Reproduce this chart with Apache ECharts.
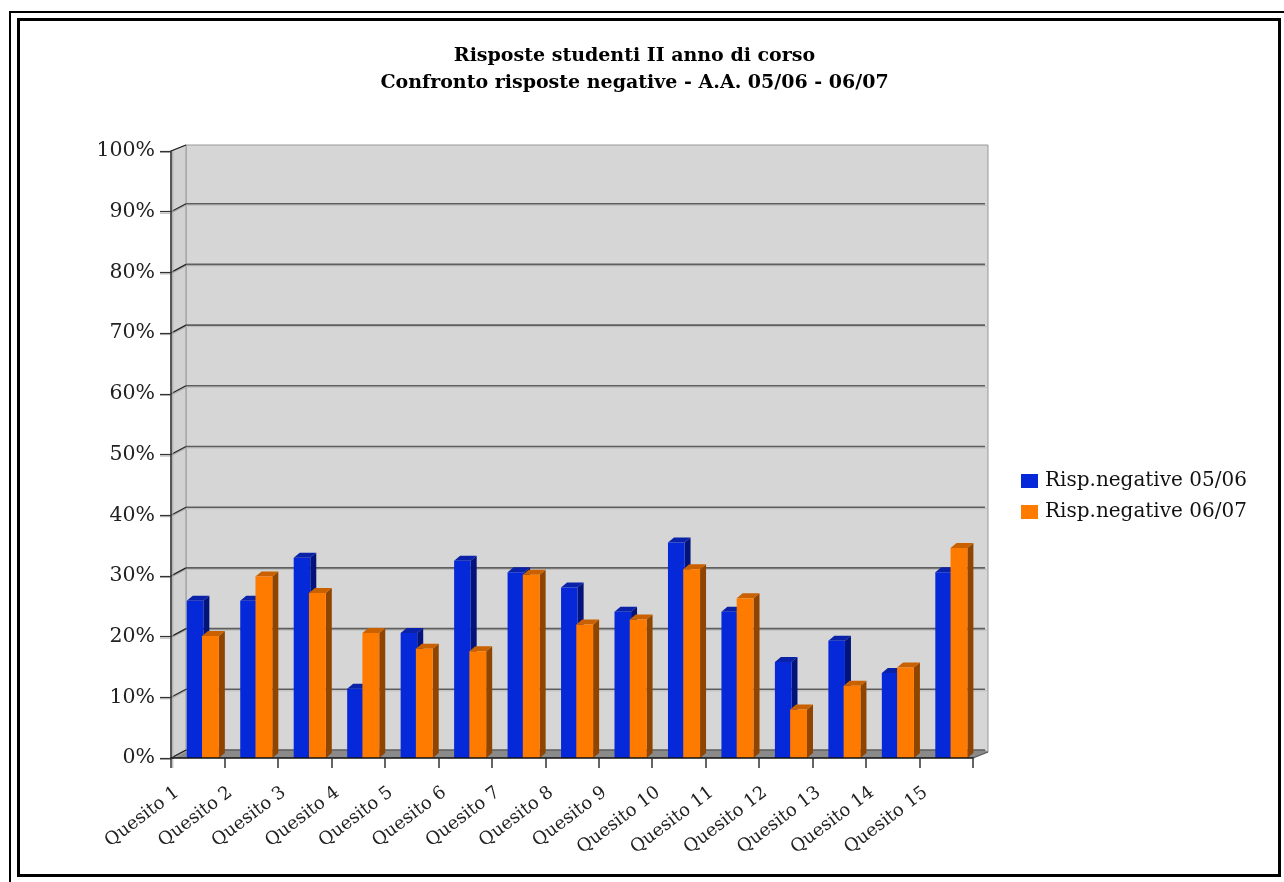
<!DOCTYPE html>
<html>
<head>
<meta charset="utf-8">
<style>html,body{margin:0;padding:0;background:#fff}#c{width:1284px;height:882px}</style>
<script src="https://cdn.jsdelivr.net/npm/echarts@6/dist/echarts.min.js"></script>
</head>
<body>
<div id="c"></div>
<script>
const categories = ['Quesito 1','Quesito 2','Quesito 3','Quesito 4','Quesito 5','Quesito 6','Quesito 7','Quesito 8','Quesito 9','Quesito 10','Quesito 11','Quesito 12','Quesito 13','Quesito 14','Quesito 15'];
const risp0506 = [25.9,25.9,33,11.4,20.6,32.5,30.6,28.1,24.1,35.5,24.1,15.8,19.3,14,30.6];
const risp0607 = [20.1,29.9,27.2,20.6,18,17.6,30.2,22,22.8,31.1,26.3,8,11.9,14.9,34.6];
const yTicks = [0,10,20,30,40,50,60,70,80,90,100];
const titleLines = ['Risposte studenti II anno di corso','Confronto risposte negative - A.A. 05/06 - 06/07'];

const DX = 15, DY = 8, TOPDY = 6, BX = 6, BY = 5;
const SERIF = '"DejaVu Serif","Liberation Serif",serif';

function bar3d(start, width, side, topC) {
  return function (params, api) {
    const c = api.coord([api.value(0), api.value(1)]);
    const b = api.coord([api.value(0), 0]);
    const band = api.size([1, 0])[0];
    const x = c[0] - band / 2 + band * start;
    const w = band * width;
    const y = c[1], y0 = b[1];
    return {
      type: 'group',
      children: [
        { type: 'polygon', shape: { points: [[x+w,y],[x+w+BX,y-BY],[x+w+BX,y0-BY],[x+w,y0]] }, style: { fill: side } },
        { type: 'polygon', shape: { points: [[x,y],[x+BX,y-BY],[x+w+BX,y-BY],[x+w,y]] }, style: { fill: topC } },
        { type: 'rect', shape: { x: x, y: y, width: w, height: y0 - y }, style: { fill: api.visual('color') } }
      ]
    };
  };
}

function walls(params, api) {
  const g = params.coordSys;
  const L = g.x, R = g.x + g.width, T = g.y, B = g.y + g.height;
  const kids = [
    { type: 'polygon', shape: { points: [[L+DX,T-TOPDY],[R+DX,T-TOPDY],[R+DX,B-TOPDY],[L+DX,B-DY]] }, style: { fill: '#d6d6d6', stroke: '#999', lineWidth: 1 } },
    { type: 'polygon', shape: { points: [[L,T],[L+DX,T-TOPDY],[L+DX,B-DY],[L,B]] }, style: { fill: '#d2d2d2', stroke: '#999', lineWidth: 1 } },
    { type: 'polygon', shape: { points: [[L,B],[L+DX,B-DY],[R+DX-3,B-DY],[R+DX,B-TOPDY],[R,B]] }, style: { fill: '#8a8a8a' } }
  ];
  yTicks.forEach(function (t) {
    const y = api.coord([0, t])[1];
    if (t !== 100) {
      if (t !== 0) kids.push({ type: 'line', shape: { x1: L+DX, y1: y-DY+1.5, x2: R+DX, y2: y-DY+1.5 }, style: { stroke: '#bdbdbd', lineWidth: 1 } });
      kids.push({ type: 'line', shape: { x1: L+DX, y1: y-DY, x2: R+DX-3, y2: y-DY }, style: { stroke: '#5e5e5e', lineWidth: 1.6 } });
      kids.push({ type: 'line', shape: { x1: L, y1: y+1.5, x2: L+DX, y2: y-DY+1.5 }, style: { stroke: '#aaa', lineWidth: 1 } });
      kids.push({ type: 'line', shape: { x1: L, y1: y, x2: L+DX, y2: y-DY }, style: { stroke: '#222', lineWidth: 1.2 } });
    } else {
      kids.push({ type: 'line', shape: { x1: L, y1: y, x2: L+DX, y2: y-TOPDY }, style: { stroke: '#222', lineWidth: 1.2 } });
    }
    kids.push({ type: 'line', shape: { x1: L-11, y1: y+1.5, x2: L, y2: y+1.5 }, style: { stroke: '#aaa', lineWidth: 1 } });
  });
  kids.push({ type: 'line', shape: { x1: L+1.8, y1: T, x2: L+1.8, y2: B+10 }, style: { stroke: '#aaa', lineWidth: 1 } });
  kids.push({ type: 'line', shape: { x1: R, y1: B, x2: R+DX, y2: B-TOPDY }, style: { stroke: '#555', lineWidth: 1.2 } });
  return { type: 'group', children: kids };
}

const chart = echarts.init(document.getElementById('c'), null, { renderer: 'canvas' });
chart.setOption({
  animation: false,
  backgroundColor: '#fff',
  title: {
    text: titleLines.join('\n'),
    left: 629.5, top: 38, textAlign: 'center',
    textStyle: { fontFamily: SERIF, fontSize: 19, fontWeight: 'bold', color: '#000', lineHeight: 27 }
  },
  legend: {
    orient: 'vertical', left: 1016, top: 466, itemWidth: 17, itemHeight: 14, itemGap: 11,
    icon: 'rect', data: ['Risp.negative 05/06', 'Risp.negative 06/07'],
    textStyle: { fontFamily: SERIF, fontSize: 20, color: '#111', padding: [0,0,0,2] }
  },
  grid: { left: 171, top: 151, width: 802, height: 607 },
  xAxis: {
    type: 'category', data: categories, z: 5,
    axisLine: { lineStyle: { color: '#111', width: 1.5 } },
    axisTick: { show: true, length: 10, lineStyle: { color: '#333', width: 1.5 } },
    axisLabel: { interval: 0, rotate: 37, margin: 17, fontFamily: SERIF, fontSize: 18, color: '#222', padding: [0,26,0,0] }
  },
  yAxis: {
    type: 'value', min: 0, max: 100, interval: 10, z: 5,
    axisLine: { show: true, lineStyle: { color: '#333', width: 1.5 } },
    axisTick: { show: true, length: 11, lineStyle: { color: '#333', width: 1.2 } },
    splitLine: { show: false },
    axisLabel: { margin: 16, fontFamily: SERIF, fontSize: 20.5, color: '#222', formatter: '{value}%' }
  },
  graphic: [
    { type: 'polyline', silent: true, z: 100, shape: { points: [[10,882],[10,12],[1284,12]] }, style: { fill: null, stroke: '#000', lineWidth: 2 } },
    { type: 'rect', silent: true, z: 100, shape: { x: 18.5, y: 19.5, width: 1261, height: 856 }, style: { fill: null, stroke: '#000', lineWidth: 3 } }
  ],
  series: [
    { type: 'custom', name: 'wall', data: [[0, 0]], renderItem: walls, silent: true, z: 1, clip: false },
    { type: 'custom', name: 'Risp.negative 05/06', itemStyle: { color: '#0529d9' }, silent: true, z: 2,
      data: risp0506.map((v, i) => [i, v]), encode: { x: 0, y: 1 },
      renderItem: bar3d(0.295, 0.31, '#02137a', '#0a22a8') },
    { type: 'custom', name: 'Risp.negative 06/07', itemStyle: { color: '#ff7b00' }, silent: true, z: 3,
      data: risp0607.map((v, i) => [i, v]), encode: { x: 0, y: 1 },
      renderItem: bar3d(0.58, 0.315, '#8f4500', '#c96100') }
  ]
});
</script>
</body>
</html>
